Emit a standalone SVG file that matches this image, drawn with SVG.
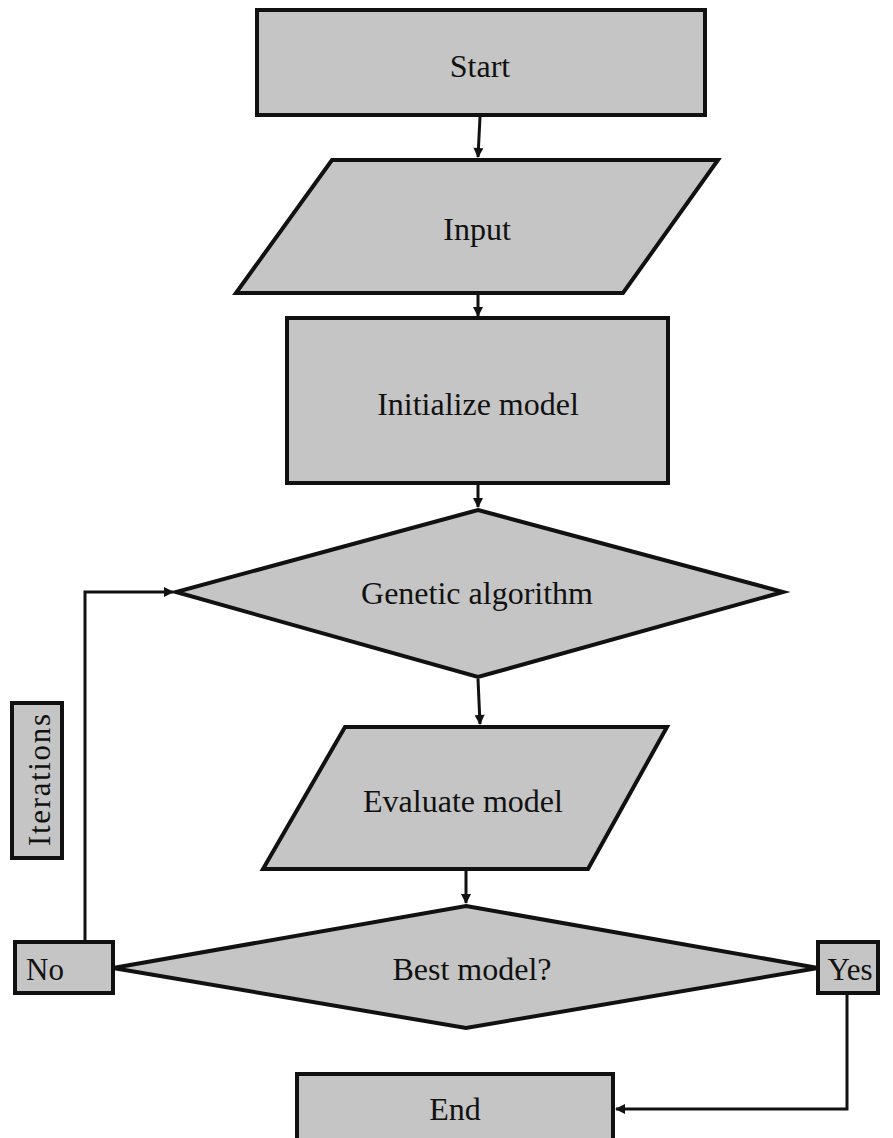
<svg xmlns="http://www.w3.org/2000/svg" width="893" height="1138" viewBox="0 0 893 1138">
  <style>
    .shape { fill: #c5c5c5; stroke: #111; stroke-width: 4; stroke-linejoin: miter; }
    .lbl { font-family: "Liberation Serif", "Times New Roman", serif; font-size: 32px; fill: #111; text-anchor: middle; }
    .small { font-size: 31px; }
    .conn { fill: none; stroke: #111; stroke-width: 3; }
  </style>
  <defs>
    <marker id="arrow" viewBox="0 0 10 10" refX="9" refY="5" markerWidth="11" markerHeight="10" markerUnits="userSpaceOnUse" orient="auto">
      <path d="M0,0 L10,5 L0,10 z" fill="#111"/>
    </marker>
  </defs>

  <rect width="893" height="1138" fill="#fff"/>

  <g id="connectors">
    <path class="conn" d="M480,117 L478,157" marker-end="url(#arrow)"/>
    <path class="conn" d="M478,295 L478,316" marker-end="url(#arrow)"/>
    <path class="conn" d="M478,485 L478,507" marker-end="url(#arrow)"/>
    <path class="conn" d="M478,679 L480,724" marker-end="url(#arrow)"/>
    <path class="conn" d="M466,871 L466,903" marker-end="url(#arrow)"/>
    <path class="conn" d="M85,940 L85,592 L173,592" marker-end="url(#arrow)"/>
    <path class="conn" d="M847,995 L847,1109 L616,1109" marker-end="url(#arrow)"/>
  </g>

  <g id="start">
    <rect class="shape" x="257" y="10" width="448" height="105"/>
    <text class="lbl" x="480" y="77">Start</text>
  </g>

  <g id="input">
    <polygon class="shape" points="332,160 718,160 623,293 236,293"/>
    <text class="lbl" x="477" y="240">Input</text>
  </g>

  <g id="initialize">
    <rect class="shape" x="287" y="318" width="381" height="165"/>
    <text class="lbl" x="478" y="415">Initialize model</text>
  </g>

  <g id="genetic">
    <polygon class="shape" points="478,510 783,592 478,677 176,592"/>
    <text class="lbl" x="477" y="604">Genetic algorithm</text>
  </g>

  <g id="evaluate">
    <polygon class="shape" points="345,727 667,727 588,869 263,869"/>
    <text class="lbl" x="463" y="812">Evaluate model</text>
  </g>

  <g id="best">
    <polygon class="shape" points="466,906 818,968 466,1028 113,968"/>
    <text class="lbl" x="472" y="980">Best model?</text>
  </g>

  <g id="no">
    <rect class="shape" x="15" y="942" width="98" height="51"/>
    <text class="lbl small" x="45" y="980">No</text>
  </g>

  <g id="yes">
    <rect class="shape" x="818" y="942" width="60" height="51"/>
    <text class="lbl small" x="850" y="980">Yes</text>
  </g>

  <g id="iterations">
    <rect class="shape" x="12" y="703" width="50" height="155"/>
    <text class="lbl small" transform="translate(50,780) rotate(-90)" x="0" y="0" textLength="132" lengthAdjust="spacing">Iterations</text>
  </g>

  <g id="end">
    <rect class="shape" x="297" y="1074" width="316" height="80"/>
    <text class="lbl" x="455" y="1120">End</text>
  </g>
</svg>
